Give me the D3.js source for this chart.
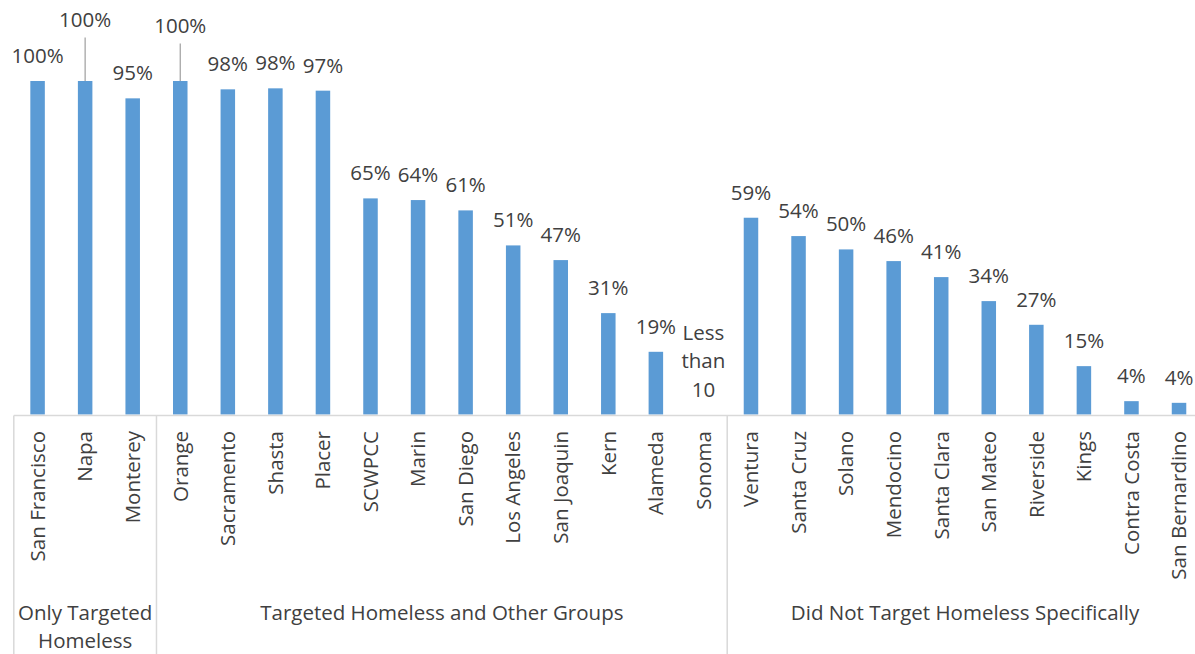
<!DOCTYPE html>
<html>
<head>
<meta charset="utf-8">
<script src="https://cdn.jsdelivr.net/npm/d3@7"></script>
<style>
  html, body { margin: 0; padding: 0; background: #fff; overflow: hidden; }
  svg { display: block; }
  text { font-family: "Open Sans", sans-serif; fill: #404040; }
</style>
</head>
<body>
<svg id="chart" width="1195" height="654"></svg>
<script>
// ---- data ----
const categories = ["San Francisco","Napa","Monterey","Orange","Sacramento","Shasta","Placer","SCWPCC","Marin","San Diego","Los Angeles","San Joaquin","Kern","Alameda","Sonoma","Ventura","Santa Cruz","Solano","Mendocino","Santa Clara","San Mateo","Riverside","Kings","Contra Costa","San Bernardino"];
const values = [1.00, 1.00, 0.948, 1.00, 0.975, 0.978, 0.971, 0.648, 0.643, 0.612, 0.507, 0.463, 0.304, 0.188, null, 0.59, 0.535, 0.495, 0.46, 0.412, 0.34, 0.269, 0.145, 0.04, 0.035];
const valueLabels = ["100%","100%","95%","100%","98%","98%","97%","65%","64%","61%","51%","47%","31%","19%","Less than 10","59%","54%","50%","46%","41%","34%","27%","15%","4%","4%"];
const groupNames = [["Only Targeted","Homeless"],["Targeted Homeless and Other Groups"],["Did Not Target Homeless Specifically"]];
const groupSizes = [3, 12, 10];

// ---- layout ----
const W = 1195, H = 654;
const left = 13.8, right = 1202.8, baseY = 414.5, topY = 81;
const FS = 20.5;
const svg = d3.select("#chart");

const x = d3.scaleBand().domain(categories).range([left, right]).paddingInner(0.695).paddingOuter(0.3475);
const y = d3.scaleLinear().domain([0, 1]).range([baseY, topY]);
const data = categories.map((c, i) => ({ c, v: values[i], label: valueLabels[i] }));

// labels moved upward with leader lines (Excel-style manual label placement)
const leaderLift = { "Napa": 36, "Orange": 30 };

// bars
svg.append("g").selectAll("rect").data(data.filter(d => d.v != null)).join("rect")
  .attr("x", d => x(d.c)).attr("width", x.bandwidth())
  .attr("y", d => y(d.v)).attr("height", d => y(0) - y(d.v))
  .attr("fill", "#5b9bd5");

// leader lines
svg.append("g").selectAll("line").data(data.filter(d => leaderLift[d.c])).join("line")
  .attr("x1", d => x(d.c) + x.bandwidth() / 2).attr("x2", d => x(d.c) + x.bandwidth() / 2)
  .attr("y1", d => y(d.v)).attr("y2", d => y(d.v) - 18 - leaderLift[d.c] + 10.5)
  .attr("stroke", "#a6a6a6").attr("stroke-width", 1.3);

// value labels
const lg = svg.append("g").attr("font-size", FS).attr("text-anchor", "middle");
data.forEach(d => {
  const cx = x(d.c) + x.bandwidth() / 2;
  if (d.v == null) {
    const lines = d.label === "Less than 10" ? ["Less", "than", "10"] : [d.label];
    lines.forEach((t, k) => {
      lg.append("text").attr("x", cx).attr("y", y(0) - 18 - (lines.length - 1 - k) * 28.5).text(t);
    });
  } else {
    const lift = leaderLift[d.c] || 0;
    lg.append("text").attr("x", cx).attr("y", y(d.v) - 18 - lift).text(d.label);
  }
});

// baseline axis
svg.append("line").attr("x1", left).attr("x2", W).attr("y1", baseY + 1).attr("y2", baseY + 1)
  .attr("stroke", "#d9d9d9").attr("stroke-width", 1.5);

// category labels
svg.append("g").attr("font-size", FS).selectAll("text").data(categories).join("text")
  .attr("transform", c => `translate(${x(c) + x.bandwidth() / 2 + 7.3},431) rotate(-90)`)
  .attr("text-anchor", "end")
  .text(c => c);

// group separators and labels
const step = x.step();
let start = 0;
const bounds = [left];
groupSizes.forEach(n => { start += n; bounds.push(left + start * step); });
svg.append("g").selectAll("line").data(bounds.slice(0, 3)).join("line")
  .attr("x1", d => d).attr("x2", d => d).attr("y1", baseY + 1).attr("y2", H)
  .attr("stroke", "#d9d9d9").attr("stroke-width", 1.5);

const gg = svg.append("g").attr("font-size", FS).attr("text-anchor", "middle");
groupNames.forEach((lines, i) => {
  const cx = (bounds[i] + bounds[i + 1]) / 2;
  lines.forEach((t, k) => {
    gg.append("text").attr("x", cx).attr("y", 620 + k * 28).text(t);
  });
});
</script>
</body>
</html>
